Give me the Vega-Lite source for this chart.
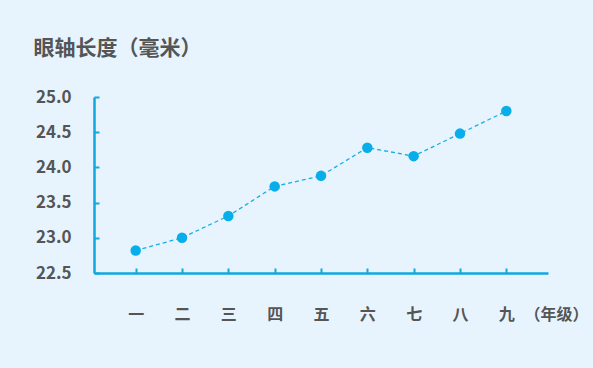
{
  "$schema": "https://vega.github.io/schema/vega-lite/v6.json",
  "autosize": "none",
  "width": 454,
  "height": 176,
  "padding": {"left": 94, "top": 97, "right": 45, "bottom": 95},
  "background": "#e7f4fd",
  "config": {
    "view": {"stroke": null},
    "font": "Noto Sans CJK SC"
  },
  "data": {
    "values": [
      {"grade": "一", "axial": 22.82},
      {"grade": "二", "axial": 23.0},
      {"grade": "三", "axial": 23.31},
      {"grade": "四", "axial": 23.73},
      {"grade": "五", "axial": 23.88},
      {"grade": "六", "axial": 24.28},
      {"grade": "七", "axial": 24.16},
      {"grade": "八", "axial": 24.48},
      {"grade": "九", "axial": 24.8}
    ]
  },
  "encoding": {
    "x": {
      "field": "grade",
      "type": "ordinal",
      "sort": null,
      "scale": {"type": "point", "padding": 0.9},
      "axis": {
        "title": "（年级）",
        "titleX": 430,
        "titleY": 41,
        "titleAlign": "left",
        "titleBaseline": "middle",
        "titleFontSize": 16,
        "titleFontWeight": "bold",
        "titleColor": "#555555",
        "labelAngle": 0,
        "labelFontSize": 16,
        "labelFontWeight": "bold",
        "labelColor": "#555555",
        "labelBaseline": "middle",
        "labelPadding": 46,
        "tickSize": -5,
        "tickWidth": 2,
        "tickColor": "#12a8df",
        "domainColor": "#12a8df",
        "domainWidth": 2.5,
        "grid": false
      }
    },
    "y": {
      "field": "axial",
      "type": "quantitative",
      "scale": {"domain": [22.5, 25], "nice": false, "zero": false},
      "axis": {
        "title": "眼轴长度（毫米）",
        "titleAngle": 0,
        "titleX": -61,
        "titleY": -49,
        "titleAlign": "left",
        "titleBaseline": "middle",
        "titleFontSize": 21,
        "titleFontWeight": "bold",
        "titleColor": "#555555",
        "values": [22.5, 23, 23.5, 24, 24.5, 25],
        "format": ".1f",
        "labelFontSize": 17,
        "labelFontWeight": "bold",
        "labelColor": "#555555",
        "labelPadding": 28,
        "tickSize": -5,
        "tickWidth": 2,
        "tickColor": "#12a8df",
        "domainColor": "#12a8df",
        "domainWidth": 2.5,
        "grid": false
      }
    }
  },
  "layer": [
    {
      "mark": {"type": "line", "color": "#1aaee3", "strokeWidth": 1.3, "strokeDash": [4, 3]}
    },
    {
      "mark": {"type": "circle", "color": "#08aeea", "size": 110, "opacity": 1}
    }
  ]
}
